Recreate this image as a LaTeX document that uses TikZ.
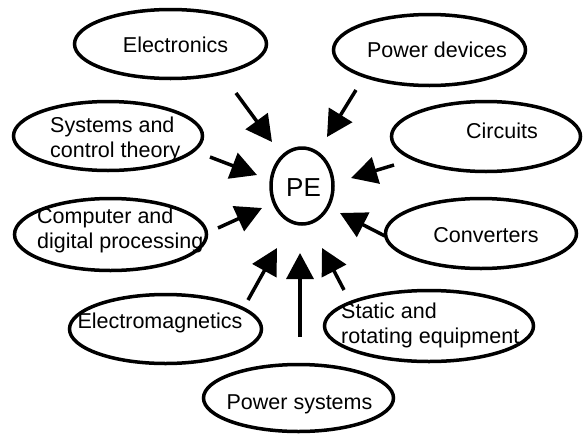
\documentclass[tikz,border=0pt]{standalone}
\usepackage{fontspec}
\setmainfont{Liberation Sans}
\usetikzlibrary{shapes.geometric,arrows.meta}
\begin{document}
\begin{tikzpicture}[x=1pt,y=-1pt,
  oval/.style={draw, ellipse, line width=3.5pt, inner sep=0pt},
  lbl/.style={font=\fontsize{21.5}{25}\selectfont, inner sep=0pt, align=left},
  feed/.style={line width=3.5pt, -{Triangle[length=26pt,width=27pt]}}]
\useasboundingbox (0,0) rectangle (583,434);
% ovals
\node[oval, minimum width=192pt, minimum height=69pt] (elec) at (170.5,44) {};
\node[oval, minimum width=189pt, minimum height=69pt] (sys) at (108,136) {};
\node[oval, minimum width=192pt, minimum height=72pt] (comp) at (110.5,234.5) {};
\node[oval, minimum width=192pt, minimum height=69pt] (emag) at (165.5,329) {};
\node[oval, minimum width=190pt, minimum height=67pt] (psys) at (298.5,398) {};
\node[oval, minimum width=209pt, minimum height=71pt] (stat) at (429,326) {};
\node[oval, minimum width=191pt, minimum height=70pt] (conv) at (481,233.5) {};
\node[oval, minimum width=189pt, minimum height=70pt] (circ) at (486,136.5) {};
\node[oval, minimum width=192pt, minimum height=71pt] (pdev) at (429.5,50) {};
\node[oval, minimum width=62pt, minimum height=76pt] (pe) at (302,186) {};
% labels
\node[lbl, anchor=base] (elecT) at (175.5,52) {Electronics};
\node[lbl, anchor=base west] (sysT) at (50,157) {Systems and\\control theory};
\node[lbl, anchor=base west] (compT) at (37,248) {Computer and\\digital processing};
\node[lbl, anchor=base] (emagT) at (160,328) {Electromagnetics};
\node[lbl, anchor=base] (psysT) at (299.5,409) {Power systems};
\node[lbl, anchor=base west] (statT) at (341,343) {Static and\\rotating equipment};
\node[lbl, anchor=base] (convT) at (486,242) {Converters};
\node[lbl, anchor=base] (circT) at (502,138) {Circuits};
\node[lbl, anchor=base] (pdevT) at (437,57) {Power devices};
\node[lbl, anchor=base, font=\fontsize{26}{30}\selectfont] (peT) at (303.5,196) {PE};
% arrow ends
\coordinate (a1) at (236,93);  \coordinate (b1) at (272,142);
\coordinate (a2) at (210,157); \coordinate (b2) at (257,175);
\coordinate (a3) at (218,228); \coordinate (b3) at (262,208);
\coordinate (a4) at (248,300); \coordinate (b4) at (277,248);
\coordinate (a5) at (300,337); \coordinate (b5) at (300,253);
\coordinate (a6) at (344,290); \coordinate (b6) at (322,248);
\coordinate (a7) at (385,236); \coordinate (b7) at (340,213);
\coordinate (a8) at (394,165); \coordinate (b8) at (351,178);
\coordinate (a9) at (356,90);  \coordinate (b9) at (327,137);
\foreach \i in {1,...,9} {\draw[feed] (a\i) -- (b\i);}
\end{tikzpicture}
\end{document}
